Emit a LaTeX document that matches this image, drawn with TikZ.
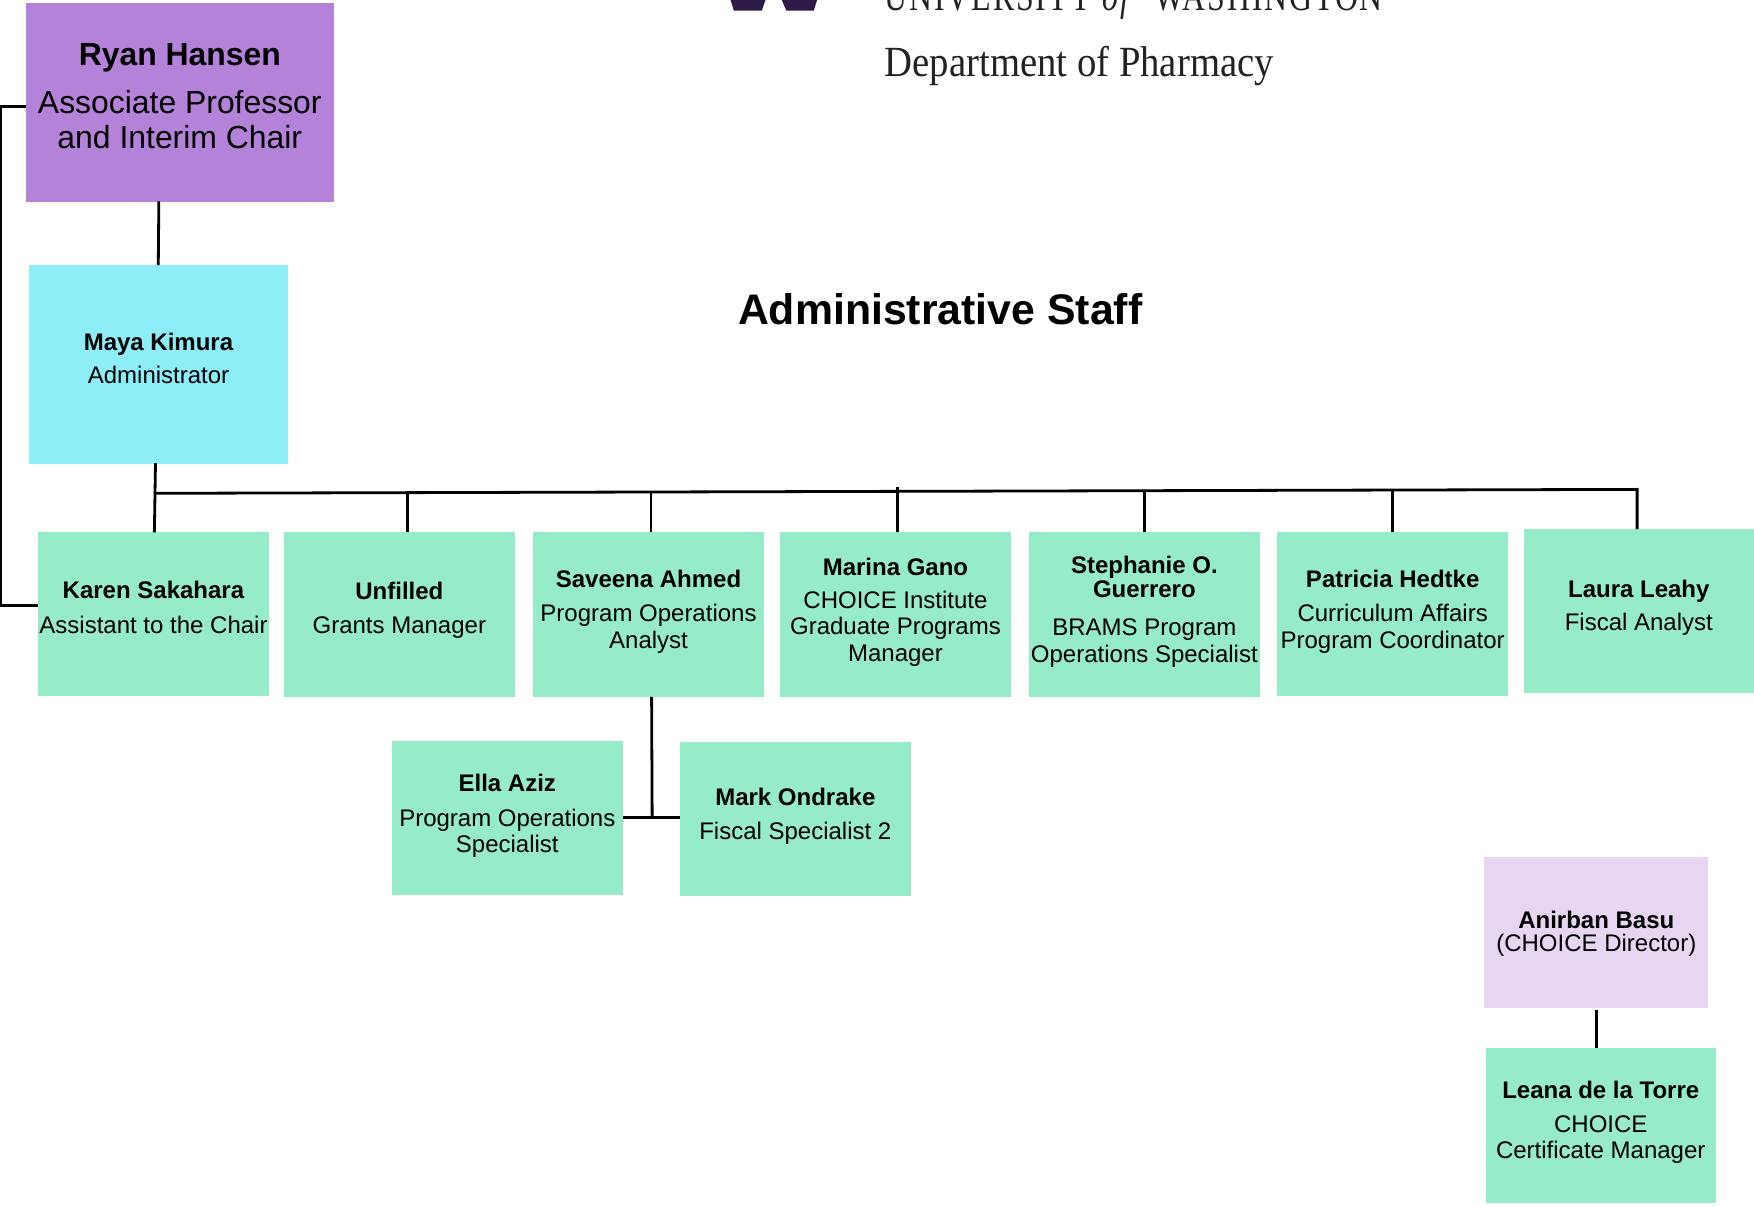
\documentclass[tikz,border=0pt]{standalone}
\usepackage{graphicx}
\usepackage{fontspec}
\setmainfont{Liberation Sans}
\newfontfamily\logofont{Liberation Serif}
\definecolor{chairc}{HTML}{B582D9}
\definecolor{adminc}{HTML}{8DEEF7}
\definecolor{staffc}{HTML}{96EBC8}
\definecolor{choicec}{HTML}{E6D6F2}
\definecolor{uwpurple}{HTML}{2E1A47}
\definecolor{logoink}{HTML}{222222}
\tikzset{
  orgbox/.style={draw=none,inner sep=0pt,outer sep=0pt,text=black,font=\fontsize{24.0}{26.3}\selectfont},
  conn/.style={draw=black,line width=2.8pt,line cap=butt,line join=miter},
  logotext/.style={inner sep=0pt,outer sep=0pt,text=logoink,anchor=base west},
}
% id, x1, y1, x2, y2, colour, raise, content
\newcommand\orgnode[8]{%
  \node[orgbox,fill=#6,minimum width={(#4-#2)*1.11862pt},minimum height={(#5-#3)*1.11862pt}]
    (#1) at ({(#2+#4)/2},{(#3+#5)/2})
    {\makebox[0pt]{\raisebox{#7pt}[0pt][0pt]{\parbox[c]{330pt}{\centering #8}}}};%
}
\newcommand\nm[1]{\textbf{#1}}
\begin{document}
\begin{tikzpicture}[x=1.11862pt,y=-1.11862pt]
\useasboundingbox (0,0) rectangle (1568,1078.13);

% logo fragments
\fill[uwpurple] (652.5,-2) -- (685,-2) -- (681,9.5) -- (656,9.5) -- cycle;
\fill[uwpurple] (698,-2) -- (731,-2) -- (727.5,9.5) -- (703,9.5) -- cycle;
\node[logotext] (uwname) at (791,9)
  {\resizebox{498pt}{\height}{\logofont\fontsize{42}{44}\selectfont\addfontfeature{LetterSpace=6}UNIVERSITY\ \textit{of}\ \ WASHINGTON}};
\node[logotext] (dept) at (791,68)
  {\resizebox{389pt}{\height}{\logofont\fontsize{43}{46}\selectfont Department of Pharmacy}};

\node[inner sep=0pt,font=\fontsize{42.8}{46}\selectfont\bfseries] (title) at (840.5,276) {Administrative Staff};

\orgnode{ryan}{23}{3}{298.5}{180.5}{chairc}{0}{\fontsize{31.9}{35}\selectfont\nm{Ryan Hansen}\\[13pt]Associate Professor\\and Interim Chair}
\orgnode{maya}{26}{237}{257.5}{414.5}{adminc}{-0.6}{\nm{Maya Kimura}\\[7pt]Administrator}
\orgnode{karen}{34}{476}{240.5}{622}{staffc}{0.4}{\nm{Karen Sakahara}\\[8pt]Assistant to the Chair}
\orgnode{unfilled}{254}{476}{460}{623}{staffc}{-1.5}{\nm{Unfilled}\\[8pt]Grants Manager}
\orgnode{saveena}{476.5}{476}{683}{623}{staffc}{-3}{\nm{Saveena Ahmed}\\[8.5pt]Program Operations\\Analyst}
\orgnode{marina}{697}{476}{904}{623}{staffc}{-3.5}{\nm{Marina Gano}\\[7pt]CHOICE Institute\\Graduate Programs\\Manager}
\orgnode{stephanie}{920}{476}{1126}{623}{staffc}{-3.4}{\fontsize{24}{23.6}\selectfont\nm{Stephanie O.\\Guerrero}\par\fontsize{24}{26.3}\selectfont\vspace{12pt}BRAMS Program\\Operations Specialist}
\orgnode{patricia}{1142}{475.5}{1348}{622}{staffc}{-4}{\nm{Patricia Hedtke}\\[8pt]Curriculum Affairs\\Program Coordinator}
\orgnode{laura}{1362}{473}{1568}{619.5}{staffc}{-2.8}{\nm{Laura Leahy}\\[7pt]Fiscal Analyst}
\orgnode{ella}{350}{662}{557}{800}{staffc}{-4.4}{\nm{Ella Aziz}\\[8pt]Program Operations\\Specialist}
\orgnode{mark}{608}{663}{814}{801}{staffc}{-3.5}{\nm{Mark Ondrake}\\[8pt]Fiscal Specialist 2}
\orgnode{anirban}{1327}{766}{1527}{901}{choicec}{-7.5}{\nm{Anirban Basu}\\[-3pt](CHOICE Director)}
\orgnode{leana}{1328}{937}{1534}{1075}{staffc}{-3}{\nm{Leana de la Torre}\\[8pt]CHOICE\\Certificate Manager}

% connector helper points
\coordinate (railT) at (0.6,95);
\coordinate (railB) at (0.6,541);
\coordinate (ryanDrop) at (142,180);
\coordinate (mayaUp) at (141.5,237);
\coordinate (mayaDrop) at (139,414);
\coordinate (karenUp) at (138,476);
\coordinate (busL) at (139,441);
\coordinate (busR) at (1463.5,437.5);
\coordinate (dropU) at (364,440.6);
\coordinate (dropS) at (582,440);
\coordinate (dropM) at (802,435);
\coordinate (dropG) at (1023,439);
\coordinate (dropP) at (1245,438);
\coordinate (subTop) at (582.5,623);
\coordinate (subMid) at (583,731);
\coordinate (anirbanDrop) at (1427,903);

\draw[conn] (ryan.west |- railT) -- (railT) -- (railB) -- (karen.west |- railB);
\draw[conn] (ryanDrop) -- (mayaUp |- maya.north);
\draw[conn] (mayaDrop) -- (karenUp |- karen.north);
\draw[conn] (busL) -- (busR) -- (busR |- laura.north);
\draw[conn] (dropU) -- (dropU |- unfilled.north);
\draw[conn] (dropS) -- (dropS |- saveena.north);
\draw[conn] (dropM) -- (dropM |- marina.north);
\draw[conn] (dropG) -- (dropG |- stephanie.north);
\draw[conn] (dropP) -- (dropP |- patricia.north);
\draw[conn] (subTop |- saveena.south) -- (subMid);
\draw[conn] (ella.east |- subMid) -- (mark.west |- subMid);
\draw[conn] (anirbanDrop) -- (anirbanDrop |- leana.north);
\end{tikzpicture}
\end{document}
